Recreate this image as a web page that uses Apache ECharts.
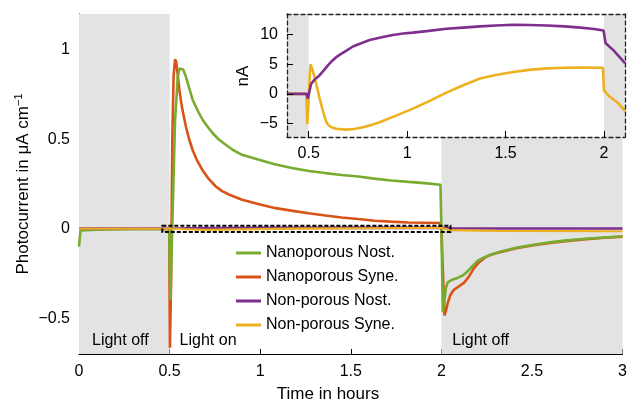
<!DOCTYPE html>
<html><head><meta charset="utf-8">
<script src="https://cdn.jsdelivr.net/npm/echarts@6/dist/echarts.min.js"></script>
<style>html,body{margin:0;padding:0;background:#fff}#c{width:630px;height:403px}</style>
</head><body><div id="c"></div>
<script>
// ---------------- data ----------------
const seriesNames = ['Nanoporous Nost.', 'Nanoporous Syne.', 'Non-porous Nost.', 'Non-porous Syne.'];

// main panel, photocurrent in µA cm^-1 vs time in hours
const nanoNost = [[0,-0.1],[0.008,-0.01],[0.1,-0.006],[0.2,-0.004],[0.3,-0.003],[0.4,-0.002],[0.498,-0.003],
  [0.505,-0.4],[0.512,-0.1],[0.53,0.6],[0.545,0.85],[0.555,0.895],[0.563,0.903],[0.575,0.89],[0.59,0.85],
  [0.61,0.78],[0.627,0.721],[0.655,0.66],[0.682,0.609],[0.71,0.57],[0.737,0.535],[0.77,0.5],[0.81,0.469],
  [0.85,0.44],[0.9,0.413],[0.993,0.385],[1.08,0.36],[1.175,0.339],[1.27,0.323],[1.359,0.311],[1.45,0.3],
  [1.541,0.292],[1.63,0.28],[1.724,0.27],[1.82,0.262],[1.907,0.255],[1.995,0.246],[2.0,0.0],[2.008,-0.466],
  [2.015,-0.42],[2.025,-0.33],[2.035,-0.3],[2.06,-0.285],[2.09,-0.275],[2.12,-0.26],[2.145,-0.238],
  [2.17,-0.21],[2.2,-0.18],[2.23,-0.163],[2.26,-0.15],[2.328,-0.127],[2.42,-0.105],[2.51,-0.089],
  [2.6,-0.076],[2.693,-0.065],[2.8,-0.056],[2.9,-0.049],[2.986,-0.043],[3,-0.042]];
const nanoSyne = [[0,0],[0.498,0],[0.502,-0.665],[0.508,-0.3],[0.515,0.5],[0.522,0.85],[0.53,0.947],[0.537,0.93],
  [0.545,0.86],[0.554,0.777],[0.562,0.72],[0.57,0.67],[0.58,0.62],[0.59,0.571],[0.608,0.5],[0.627,0.44],
  [0.65,0.385],[0.68,0.33],[0.715,0.28],[0.755,0.236],[0.79,0.21],[0.83,0.19],[0.9,0.162],[1.0,0.135],
  [1.085,0.115],[1.18,0.1],[1.267,0.087],[1.36,0.074],[1.45,0.063],[1.54,0.054],[1.633,0.045],[1.72,0.04],
  [1.816,0.035],[1.99,0.032],[2.0,0.0],[2.017,-0.484],[2.025,-0.46],[2.035,-0.415],[2.05,-0.37],[2.07,-0.34],
  [2.1,-0.32],[2.127,-0.3],[2.15,-0.27],[2.18,-0.22],[2.21,-0.185],[2.25,-0.155],[2.29,-0.14],[2.33,-0.13],
  [2.42,-0.108],[2.51,-0.092],[2.6,-0.079],[2.7,-0.068],[2.8,-0.058],[2.9,-0.05],[3,-0.044]];
const nonNost = [[0,0],[0.5,0],[0.6,0.003],[1,0.005],[1.5,0.006],[2,0.005],[2.05,0.002],[2.3,0.001],[3,0.001]];
const nonSyne = [[0,0],[0.5,0],[0.7,-0.006],[1.2,0.001],[1.9,0.004],[2.0,0.004],[2.05,-0.008],[2.3,-0.012],[3,-0.014]];

// inset panel, current in nA vs time in hours
const insetNonNost = [[0.39,0],[0.49,0],[0.496,-0.8],[0.505,0.6],[0.513,1.7],[0.53,2.4],[0.556,3.15],[0.58,4.1],
  [0.6,4.9],[0.62,5.6],[0.64,6.2],[0.665,6.75],[0.69,7.25],[0.725,8.0],[0.77,8.6],[0.81,9.1],[0.86,9.5],
  [0.92,9.9],[0.98,10.2],[1.03,10.35],[1.1,10.6],[1.2,11.0],[1.285,11.2],[1.37,11.4],[1.45,11.55],[1.54,11.67],
  [1.62,11.65],[1.71,11.55],[1.8,11.4],[1.88,11.2],[1.95,10.95],[1.998,10.7],[2.008,8.6],[2.05,7.3],[2.107,5.2]];
const insetNonSyne = [[0.39,0],[0.488,0],[0.493,-5.1],[0.5,-1.0],[0.506,3.5],[0.51,5.0],[0.516,4.7],[0.527,3.2],
  [0.54,1.45],[0.556,-0.8],[0.574,-3.1],[0.588,-4.6],[0.6,-5.3],[0.62,-5.7],[0.64,-5.9],[0.69,-6.05],[0.73,-5.95],
  [0.776,-5.65],[0.82,-5.25],[0.86,-4.8],[0.95,-3.6],[1.03,-2.5],[1.115,-1.2],[1.2,0.2],[1.285,1.45],[1.37,2.6],
  [1.45,3.2],[1.54,3.7],[1.62,4.05],[1.71,4.3],[1.8,4.4],[1.88,4.45],[1.995,4.4],[2.0,0.6],[2.03,-0.5],
  [2.07,-1.5],[2.107,-2.9]];

const xTicks = [0, 0.5, 1, 1.5, 2, 2.5, 3];
const yTicks = [-0.5, 0, 0.5, 1];
const insetXTicks = [0.5, 1, 1.5, 2];
const insetYTicks = [-5, 0, 5, 10];
const lightOffStart = [0, 0.5];
const lightOnPeriod = [0.5, 2];
const lightOffEnd = [2, 3];
const insetWindowX = [0.46, 2.05];
const insetWindowY = [-0.018, 0.017];
const insetRangeX = [0.39, 2.107];
const insetRangeY = [-7.3, 13.5];
const mainRangeY = [-0.7, 1.2];

// ---------------- chart ----------------
const FONT = 'Liberation Sans, Arial, Helvetica, sans-serif';
const COLORS = ['#77AC30', '#D95319', '#7E2F8E', '#EDB120'];
const GRAY = '#e3e3e3';
const fmt = v => (v < 0 ? '\u2212' : '') + Math.abs(v);
const DASH = {color: '#222', width: 1.3, type: [4, 3]};

const chart = echarts.init(document.getElementById('c'), null, {renderer: 'canvas'});

const lineSeries = (name, data, color, xi, yi, z, w) => ({
  name, type: 'line', data, xAxisIndex: xi, yAxisIndex: yi, z,
  showSymbol: false, symbol: 'none', animation: false, silent: true,
  lineStyle: {color, width: w}, itemStyle: {color}
});

const option = {
  animation: false,
  backgroundColor: '#fff',
  grid: [
    {left: 79, right: 4, top: 14, bottom: 49, containLabel: false},
    {left: 287, right: 5, top: 14, bottom: 266, containLabel: false}
  ],
  xAxis: [
    {type: 'value', gridIndex: 0, min: 0, max: 3, interval: 0.5,
      axisLine: {show: true, onZero: false, lineStyle: {color: '#000', width: 1}},
      axisTick: {show: true, inside: true, length: 5, lineStyle: {color: '#000'}, customValues: xTicks},
      axisLabel: {fontSize: 16, color: '#000', fontFamily: FONT, margin: 10, formatter: fmt, customValues: xTicks},
      splitLine: {show: false}},
    {type: 'value', gridIndex: 1, min: insetRangeX[0], max: insetRangeX[1], z: 13,
      axisLine: {show: true, onZero: false, lineStyle: DASH},
      axisTick: {show: true, inside: true, length: 6, lineStyle: {color: '#000'}, customValues: insetXTicks},
      axisLabel: {fontSize: 16, color: '#000', fontFamily: FONT, margin: 9, formatter: fmt, customValues: insetXTicks},
      splitLine: {show: false}},
    {type: 'value', gridIndex: 1, position: 'top', min: insetRangeX[0], max: insetRangeX[1], z: 13,
      axisLine: {show: true, onZero: false, lineStyle: DASH},
      axisTick: {show: false}, axisLabel: {show: false}, splitLine: {show: false}}
  ],
  yAxis: [
    {type: 'value', gridIndex: 0, min: mainRangeY[0], max: mainRangeY[1],
      axisLine: {show: true, onZero: false, lineStyle: {color: '#000', width: 1}},
      axisTick: {show: true, inside: true, length: 6, lineStyle: {color: '#000'}, customValues: yTicks},
      axisLabel: {fontSize: 16, color: '#000', fontFamily: FONT, margin: 9, formatter: fmt, customValues: yTicks},
      splitLine: {show: false}},
    {type: 'value', gridIndex: 1, min: insetRangeY[0], max: insetRangeY[1], z: 13,
      axisLine: {show: true, onZero: false, lineStyle: DASH},
      axisTick: {show: true, inside: true, length: 6, lineStyle: {color: '#000'}, customValues: insetYTicks},
      axisLabel: {fontSize: 16, color: '#000', fontFamily: FONT, margin: 9, formatter: fmt, customValues: insetYTicks},
      splitLine: {show: false}},
    {type: 'value', gridIndex: 1, position: 'right', min: insetRangeY[0], max: insetRangeY[1], z: 13,
      axisLine: {show: true, onZero: false, lineStyle: DASH},
      axisTick: {show: false}, axisLabel: {show: false}, splitLine: {show: false}}
  ],
  legend: {
    orient: 'vertical', left: 236, top: 245, padding: 0, itemWidth: 25, itemHeight: 3, itemGap: 8, itemTextGap: 10,
    icon: 'rect', data: seriesNames, selectedMode: false, z: 20,
    textStyle: {fontSize: 16, color: '#000', fontFamily: FONT, lineHeight: 16}
  },
  series: [
    // main background shading + labels
    {type: 'line', name: 'shade', data: [], xAxisIndex: 0, yAxisIndex: 0, z: 1, silent: true,
      markArea: {silent: true, z: 1, itemStyle: {color: GRAY},
        label: {show: true, position: 'insideBottomLeft', fontSize: 16, color: '#000', fontFamily: FONT},
        data: [
          [{name: 'Light off', xAxis: lightOffStart[0], label: {offset: [8, 0]}}, {xAxis: lightOffStart[1]}],
          [{name: 'Light on', xAxis: lightOnPeriod[0], itemStyle: {color: 'rgba(0,0,0,0)'}, label: {offset: [5, 0]}}, {xAxis: lightOnPeriod[1]}],
          [{name: 'Light off', xAxis: lightOffEnd[0], label: {offset: [6, 0]}}, {xAxis: lightOffEnd[1]}]
        ]}},
    lineSeries(seriesNames[1], nanoSyne, COLORS[1], 0, 0, 2, 2.6),
    lineSeries(seriesNames[0], nanoNost, COLORS[0], 0, 0, 3, 2.6),
    lineSeries(seriesNames[2], nonNost, COLORS[2], 0, 0, 4, 2.6),
    lineSeries(seriesNames[3], nonSyne, COLORS[3], 0, 0, 4, 2.2),
    // dashed window marking inset region
    {type: 'line', name: 'window', data: [], xAxisIndex: 0, yAxisIndex: 0, z: 6, silent: true,
      markArea: {silent: true, z: 6,
        itemStyle: {color: 'rgba(0,0,0,0)', borderColor: '#000', borderWidth: 2, borderType: [4, 2]},
        data: [[{xAxis: insetWindowX[0], yAxis: insetWindowY[1]}, {xAxis: insetWindowX[1], yAxis: insetWindowY[0]}]]}},
    // inset white background
    {type: 'line', name: 'insetBg', data: [], xAxisIndex: 1, yAxisIndex: 1, z: 10, silent: true,
      markArea: {silent: true, z: 10, itemStyle: {color: '#fff'},
        data: [[{xAxis: insetRangeX[0]}, {xAxis: insetRangeX[1]}]]}},
    // inset shading
    {type: 'line', name: 'insetShade', data: [], xAxisIndex: 1, yAxisIndex: 1, z: 11, silent: true,
      markArea: {silent: true, z: 11, itemStyle: {color: GRAY},
        data: [
          [{xAxis: insetRangeX[0]}, {xAxis: lightOnPeriod[0]}],
          [{xAxis: lightOnPeriod[1]}, {xAxis: insetRangeX[1]}]
        ]}},
    lineSeries(seriesNames[3], insetNonSyne, COLORS[3], 1, 1, 12, 2.6),
    lineSeries(seriesNames[2], insetNonNost, COLORS[2], 1, 1, 12, 2.6)
  ],
  graphic: [
    {type: 'text', x: 23, y: 184, rotation: Math.PI / 2, z: 30,
      style: {text: '{a|Photocurrent in \u03bcA cm}{b|\u22121}', textAlign: 'center', textVerticalAlign: 'middle',
        rich: {a: {fontSize: 17, fontFamily: FONT, fill: '#000', color: '#000', lineHeight: 20},
               b: {fontSize: 11, fontFamily: FONT, fill: '#000', color: '#000', verticalAlign: 'top', lineHeight: 20}}}},
    {type: 'text', x: 328, y: 394, z: 30,
      style: {text: 'Time in hours', font: '17px ' + FONT, fill: '#000', textAlign: 'center', textVerticalAlign: 'middle'}},
    {type: 'text', x: 243, y: 76, rotation: Math.PI / 2, z: 30,
      style: {text: 'nA', font: '17px ' + FONT, fill: '#000', textAlign: 'center', textVerticalAlign: 'middle'}}
  ]
};
chart.setOption(option);
</script></body></html>
